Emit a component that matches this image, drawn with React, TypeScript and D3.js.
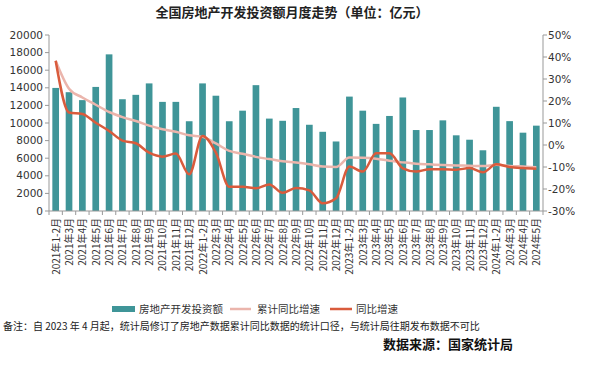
import { useEffect, useRef } from 'react';
import * as d3 from 'd3';

const categories = [
  '2021年1-2月', '2021年3月', '2021年4月', '2021年5月', '2021年6月', '2021年7月', '2021年8月', '2021年9月', '2021年10月', '2021年11月', '2021年12月',
  '2022年1-2月', '2022年3月', '2022年4月', '2022年5月', '2022年6月', '2022年7月', '2022年8月', '2022年9月', '2022年10月', '2022年11月', '2022年12月',
  '2023年1-2月', '2023年3月', '2023年4月', '2023年5月', '2023年6月', '2023年7月', '2023年8月', '2023年9月', '2023年10月', '2023年11月', '2023年12月',
  '2024年1-2月', '2024年3月', '2024年4月', '2024年5月',
];

// 房地产开发投资额（亿元）
const investment = [
  13986, 13500, 12600, 14100, 17800, 12700, 13200, 14500, 12400, 12400, 10200,
  14500, 13100, 10200, 11400, 14300, 10500, 10250, 11700, 9800, 9000, 7900,
  13000, 11400, 9900, 10800, 12900, 9200, 9200, 10300, 8600, 8100, 6900,
  11842, 10212, 8900, 9698,
];

// 累计同比增速（%）
const cumulativeYoY = [
  38.3, 25.6, 21.6, 18.3, 15.0, 12.7, 10.9, 8.8, 7.2, 6.0, 4.4,
  3.7, 0.7, -2.7, -4.0, -5.4, -6.4, -7.4, -8.0, -8.8, -9.8, -10.0,
  -5.7, -5.8, -6.2, -7.2, -7.9, -8.5, -8.8, -9.1, -9.3, -9.4, -9.6,
  -9.0, -9.5, -9.8, -10.1,
];

// 同比增速（%）
const monthlyYoY = [
  38.3, 14.8, 14.1, 10.1, 6.4, 2.0, 0.8, -3.5, -5.3, -3.9, -13.3,
  4.1, -3.5, -19.0, -19.0, -19.7, -17.9, -21.7, -19.5, -20.6, -26.5, -24.2,
  -9.8, -12.1, -3.8, -3.8, -10.6, -12.1, -11.0, -11.0, -11.2, -10.5, -12.4,
  -8.8, -10.0, -10.5, -10.8,
];

const leftTicks = [0, 2000, 4000, 6000, 8000, 10000, 12000, 14000, 16000, 18000, 20000];
const rightTicks = [-30, -20, -10, 0, 10, 20, 30, 40, 50];

const BAR = '#3f9598';
const CUM = '#ebb5ac';
const YOY = '#d95b3c';
const AXIS = '#999';
const CJK = '"Noto Sans CJK SC", "Noto Sans", sans-serif';

export default function App() {
  const svgRef = useRef<SVGSVGElement>(null);

  useEffect(() => {
    if (!svgRef.current) return;
    const svg = d3.select(svgRef.current);
    svg.selectAll('*').remove();

    const left = 49;
    const right = 543;
    const top = 35;
    const bottom = 211;

    const x = d3.scaleBand<string>().domain(categories).range([left, right]).paddingInner(0.5).paddingOuter(0.25);
    const yL = d3.scaleLinear().domain([0, 20000]).range([bottom, top]);
    const yR = d3.scaleLinear().domain([-30, 50]).range([bottom, top]);

    svg.append('rect').attr('width', 600).attr('height', 368).attr('fill', '#fff');

    // 标题
    svg.append('text')
      .attr('x', 292).attr('y', 17)
      .attr('text-anchor', 'middle')
      .style('font-family', CJK).style('font-size', '13px').style('font-weight', 'bold')
      .attr('fill', '#222')
      .text('全国房地产开发投资额月度走势（单位：亿元）');

    // 柱子
    svg.append('g').selectAll('rect')
      .data(investment)
      .enter()
      .append('rect')
      .attr('x', (d, i) => x(categories[i])!)
      .attr('width', x.bandwidth())
      .attr('y', d => yL(d))
      .attr('height', d => bottom - yL(d))
      .attr('fill', BAR);

    // 折线
    const line = d3.line<number>()
      .x((d, i) => x(categories[i])! + x.bandwidth() / 2)
      .y(d => yR(d))
      .curve(d3.curveMonotoneX);

    svg.append('path')
      .attr('d', line(cumulativeYoY))
      .attr('fill', 'none')
      .attr('stroke', CUM)
      .attr('stroke-width', 2.5);

    svg.append('path')
      .attr('d', line(monthlyYoY))
      .attr('fill', 'none')
      .attr('stroke', YOY)
      .attr('stroke-width', 2.5);

    // 左轴
    const gl = svg.append('g');
    gl.append('line').attr('x1', left).attr('x2', left).attr('y1', top).attr('y2', bottom).attr('stroke', AXIS);
    leftTicks.forEach(t => {
      gl.append('line').attr('x1', left - 4).attr('x2', left).attr('y1', yL(t)).attr('y2', yL(t)).attr('stroke', AXIS);
      gl.append('text')
        .attr('x', left - 6).attr('y', yL(t)).attr('dy', '0.35em')
        .attr('text-anchor', 'end')
        .style('font-family', '"DejaVu Sans", sans-serif').style('font-size', '10.5px')
        .attr('fill', '#333')
        .text(t);
    });

    // 右轴
    const gr = svg.append('g');
    gr.append('line').attr('x1', right).attr('x2', right).attr('y1', top).attr('y2', bottom).attr('stroke', AXIS);
    rightTicks.forEach(t => {
      gr.append('line').attr('x1', right).attr('x2', right + 4).attr('y1', yR(t)).attr('y2', yR(t)).attr('stroke', AXIS);
      gr.append('text')
        .attr('x', right + 5).attr('y', yR(t)).attr('dy', '0.35em')
        .attr('text-anchor', 'start')
        .style('font-family', '"DejaVu Sans", sans-serif').style('font-size', '10.5px')
        .attr('fill', '#333')
        .text(`${t}%`);
    });

    // X轴
    const gx = svg.append('g');
    gx.append('line').attr('x1', left).attr('x2', right).attr('y1', bottom).attr('y2', bottom).attr('stroke', AXIS);
    const step = x.step();
    categories.forEach((c, i) => {
      const bx = x(c)! - (step - x.bandwidth()) / 2;
      gx.append('line').attr('x1', bx).attr('x2', bx).attr('y1', bottom).attr('y2', bottom + 4).attr('stroke', AXIS);
      if (i === categories.length - 1) {
        gx.append('line').attr('x1', bx + step).attr('x2', bx + step).attr('y1', bottom).attr('y2', bottom + 4).attr('stroke', AXIS);
      }
      const cx = x(c)! + x.bandwidth() / 2;
      gx.append('text')
        .attr('transform', `translate(${cx + 4},${bottom + 7}) rotate(-90)`)
        .attr('text-anchor', 'end')
        .style('font-family', CJK).style('font-size', '10px')
        .attr('fill', '#333')
        .text(c);
    });

    // 图例
    const lg = svg.append('g').style('font-family', CJK).style('font-size', '10.5px').attr('fill', '#333');
    lg.append('rect').attr('x', 112).attr('y', 306).attr('width', 23).attr('height', 6).attr('fill', BAR);
    lg.append('text').attr('x', 139).attr('y', 313).text('房地产开发投资额');
    lg.append('line').attr('x1', 230).attr('x2', 251).attr('y1', 309).attr('y2', 309).attr('stroke', CUM).attr('stroke-width', 2.5);
    lg.append('text').attr('x', 257).attr('y', 313).text('累计同比增速');
    lg.append('line').attr('x1', 330).attr('x2', 352).attr('y1', 309).attr('y2', 309).attr('stroke', YOY).attr('stroke-width', 2.5);
    lg.append('text').attr('x', 356).attr('y', 313).text('同比增速');

    // 备注与来源
    svg.append('text')
      .attr('x', 3).attr('y', 330)
      .style('font-family', CJK).style('font-size', '10px')
      .attr('fill', '#222')
      .text('备注：自 2023 年 4 月起，统计局修订了房地产数据累计同比数据的统计口径，与统计局往期发布数据不可比');

    svg.append('text')
      .attr('x', 513).attr('y', 349)
      .attr('text-anchor', 'end')
      .style('font-family', CJK).style('font-size', '13px').style('font-weight', 'bold')
      .attr('fill', '#111')
      .text('数据来源：国家统计局');
  }, []);

  return (
    <svg ref={svgRef} width={600} height={368} style={{ position: 'absolute', left: 0, top: 0 }} />
  );
}
